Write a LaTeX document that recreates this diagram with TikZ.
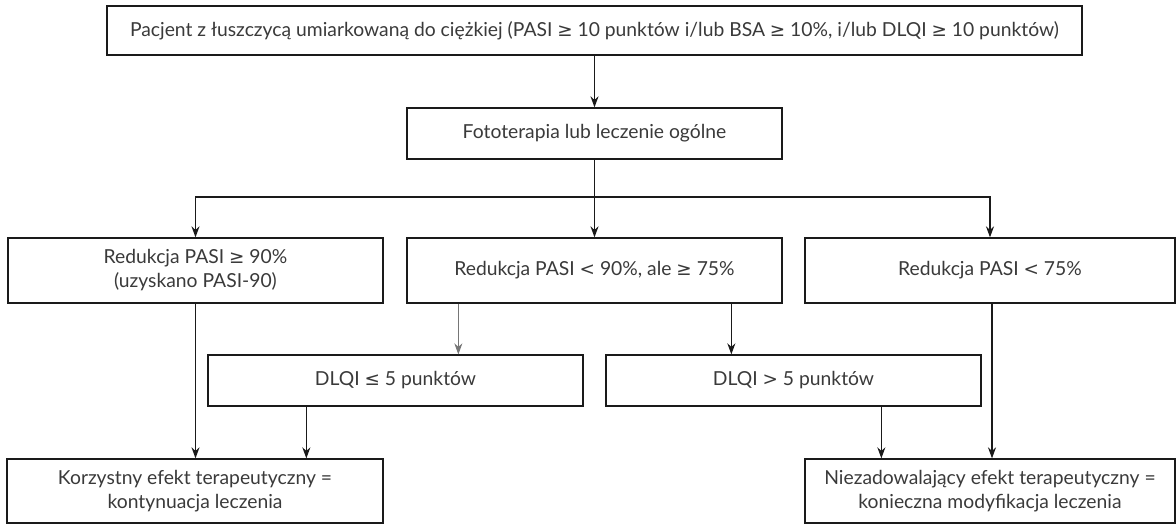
\documentclass[tikz,border=0pt]{standalone}
\usepackage{fontspec}
\setmainfont{Lato}
\newfontfamily\symf[Scale=0.95]{DejaVu Sans}
\usetikzlibrary{arrows.meta,calc}
\newcommand{\gesy}{{\symf ≥}}
\newcommand{\lesy}{{\symf ≤}}
\newcommand{\ltsy}{{\symf <}}
\newcommand{\gtsy}{{\symf >}}
\definecolor{txt}{HTML}{3A3A3A}
\definecolor{ln}{HTML}{1A1A1A}
\tikzset{
  box/.style={draw=ln, line width=1.3pt, rectangle, inner sep=0pt, align=center,
    text=txt, font=\fontsize{19.3}{24}\selectfont},
  arr/.style={draw=ln, line width=1.5pt, -{Stealth[length=11pt,width=8pt]}},
  thinarr/.style={draw=ln!60, line width=0.9pt, -{Stealth[length=11pt,width=8pt]}},
}
\begin{document}
\begin{tikzpicture}[x=1pt,y=-1pt]
\useasboundingbox (0,0) rectangle (1176,525);
\fill[white] (0,0) rectangle (1176,525);
\node[box, minimum width=975, minimum height=49] (top) at (594.5,30.5)
  {Pacjent z łuszczycą umiarkowaną do ciężkiej (PASI \gesy{} 10 punktów i/lub BSA \gesy{} 10\%, i/lub DLQI \gesy{} 10 punktów)};
\node[box, minimum width=375, minimum height=51] (foto) at (594.5,133.5) {Fototerapia lub leczenie ogólne};
\node[box, minimum width=375, minimum height=65] (r1) at (195.5,270.5) {Redukcja PASI \gesy{} 90\%\\(uzyskano PASI-90)};
\node[box, minimum width=375, minimum height=65] (r2) at (594.5,270.5) {Redukcja PASI \ltsy{} 90\%, ale \gesy{} 75\%};
\node[box, minimum width=370, minimum height=65] (r3) at (990,270.5) {Redukcja PASI \ltsy{} 75\%};
\node[box, minimum width=375, minimum height=51] (d1) at (395.5,380.5) {DLQI \lesy{} 5 punktów};
\node[box, minimum width=375, minimum height=51] (d2) at (793.5,380.5) {DLQI \gtsy{} 5 punktów};
\node[box, minimum width=376, minimum height=64] (f1) at (195,491) {Korzystny efekt terapeutyczny =\\kontynuacja leczenia};
\node[box, minimum width=370, minimum height=64] (f2) at (990,491) {Niezadowalający efekt terapeutyczny =\\konieczna modyfikacja leczenia};
% connectors
\draw[arr] (top.south) -- (foto.north);
\coordinate (fork) at ($(foto.south)!0.48!(r2.north)$);
\draw[arr] (foto.south) -- (r2.north);
\draw[arr] (fork) -| (r1.north);
\draw[arr] (fork) -| (r3.north);
\draw[thinarr] ([xshift=52pt]r2.south west) -- ([xshift=52pt]r2.south west |- d1.north);
\draw[arr] ([xshift=325pt]r2.south west) -- ([xshift=325pt]r2.south west |- d2.north);
\draw[arr] (r1.south) -- (r1.south |- f1.north);
\draw[arr] ([xshift=99pt]d1.south west) -- ([xshift=99pt]d1.south west |- f1.north);
\draw[arr] ([xshift=276pt]d2.south west) -- ([xshift=276pt]d2.south west |- f2.north);
\draw[arr] ([xshift=2pt]r3.south) -- ([xshift=2pt]r3.south |- f2.north);
\end{tikzpicture}
\end{document}
